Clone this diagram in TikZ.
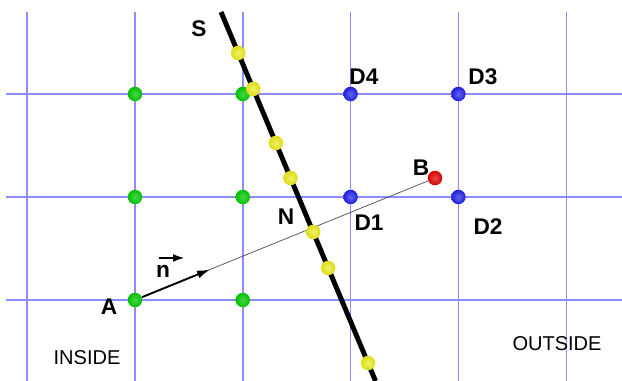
\documentclass[tikz,border=0pt]{standalone}
\usepackage{fontspec}
\setsansfont{Liberation Sans}
\usepackage{tikz}
\usetikzlibrary{positioning,calc,arrows.meta}
\definecolor{gridblue}{HTML}{8C8CFF}
\definecolor{ballgreen}{HTML}{00C000}
\definecolor{ballblue}{HTML}{2020E0}
\definecolor{ballyellow}{HTML}{E8E818}
\definecolor{ballred}{HTML}{D80000}

\begin{document}
\begin{tikzpicture}[x=2.156cm, y=2.06cm,
  gridline/.style={draw=gridblue, line width=0.8pt},
  ball/.style={circle, minimum size=0.29cm, inner sep=0pt, shading=radial},
  greenball/.style={ball, inner color=ballgreen!70!white, outer color=ballgreen},
  blueball/.style={ball, inner color=ballblue!70!white, outer color=ballblue},
  yellowball/.style={ball, inner color=ballyellow!65!white, outer color=ballyellow!95!black},
  redball/.style={ball, inner color=ballred!70!white, outer color=ballred},
  lbl/.style={font=\sffamily\bfseries\fontsize{12.9}{14}\selectfont, inner sep=0pt},
  zone/.style={font=\sffamily\fontsize{11.4}{13}\selectfont, inner sep=0pt},
]
\useasboundingbox (-1.2523,-0.7864) rectangle (4.5176,2.9126);
% grid (cells 2.156cm x 2.06cm, A at the origin)
\foreach \i in {-1,...,4} {
  \draw[gridline] (\i,-0.7864) -- (\i,2.796);
}
\foreach \j in {0,1,2} {
  \draw[gridline] (-1.1967,\j) -- (4.5176,\j);
}

% inside points
\node[greenball] (A) at (0,0) {};
\foreach \i/\j [count=\k] in {0/2,1/2,0/1,1/1,1/0} {
  \node[greenball] (g\k) at (\i,\j) {};
}
% outside points
\node[blueball] (D1) at (2,1) {};
\node[blueball] (D2) at (3,1) {};
\node[blueball] (D3) at (3,2) {};
\node[blueball] (D4) at (2,2) {};
\node[redball] (B) at (2.783,1.184) {};

% segment A-B and normal
\draw[gray!60!black, line width=0.4pt] (A) -- (B);
\draw[line width=1.1pt, -{Latex[length=7.4pt,width=4.6pt]}] (A) -- ($(A)!0.25!(B)$);

% surface S
\coordinate (S0) at (0.798,2.796);
\coordinate (S1) at (2.231,-0.786);
\draw[line width=2.8pt] (S0) -- (S1);
\foreach \t [count=\k] in {0.111,0.2085,0.355,0.450,0.5963,0.6937,0.9514} {
  \node[yellowball] (y\k) at ($(S0)!\t!(S1)$) {};
}

% labels
\node[lbl] (lS) at (0.594,2.631) {S};
\node[lbl] (lD4) at (2.124,2.165) {D4};
\node[lbl] (lD3) at (3.228,2.165) {D3};
\node[lbl] (lB) at (2.653,1.282) {B};
\node[lbl] (lN) at (1.401,0.806) {N};
\node[lbl] (lD1) at (2.171,0.748) {D1};
\node[lbl] (lD2) at (3.275,0.709) {D2};
\node[lbl] (lA) at (-0.241,-0.068) {A};
\node[lbl] (n) at (0.260,0.282) {n};
\draw[line width=0.6pt, -{Latex[length=6.2pt,width=4.4pt]}]
  ([shift={(-0.037,0.126)}]n.center) -- ([shift={(0.195,0.126)}]n.center);
\node[zone] (inside) at (-0.445,-0.563) {INSIDE};
\node[zone] (outside) at (3.915,-0.427) {OUTSIDE};
\end{tikzpicture}
\end{document}
